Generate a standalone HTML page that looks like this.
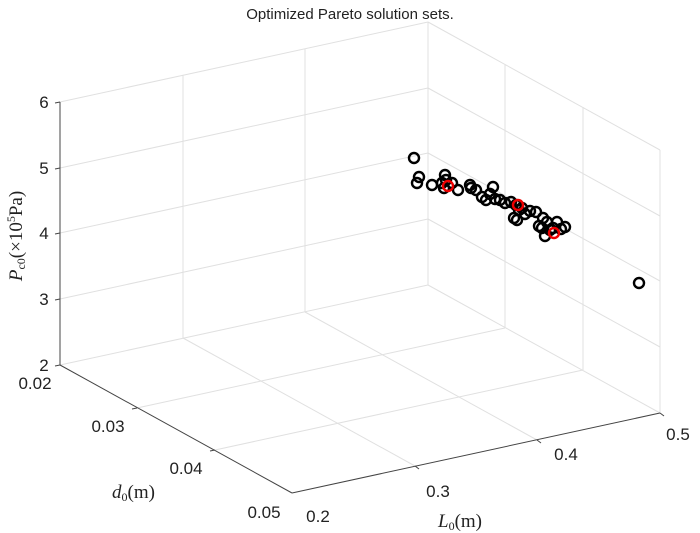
<!DOCTYPE html>
<html><head><meta charset="utf-8"><style>
body{margin:0;background:#fff}
svg{display:block;font-family:"Liberation Sans",sans-serif}
</style></head><body>
<svg width="700" height="533" viewBox="0 0 700 533">
<rect width="700" height="533" fill="#fff"/>
<text x="350" y="19" font-size="15" text-anchor="middle" fill="#222">Optimized Pareto solution sets.</text>
<g stroke="#e0e0e0" stroke-width="1" fill="none">
<line x1="60" y1="299" x2="428" y2="219"/>
<line x1="60" y1="233" x2="428" y2="153"/>
<line x1="60" y1="168" x2="428" y2="88"/>
<line x1="60" y1="102" x2="428" y2="22"/>
<line x1="183" y1="338" x2="183" y2="75"/>
<line x1="305" y1="312" x2="305" y2="49"/>
<line x1="428" y1="285" x2="428" y2="22"/>
<line x1="428" y1="219" x2="660" y2="347"/>
<line x1="428" y1="153" x2="660" y2="281"/>
<line x1="428" y1="88" x2="660" y2="216"/>
<line x1="428" y1="22" x2="660" y2="150"/>
<line x1="505" y1="328" x2="505" y2="65"/>
<line x1="583" y1="370" x2="583" y2="107"/>
<line x1="660" y1="413" x2="660" y2="150"/>
<line x1="137" y1="408" x2="505" y2="328"/>
<line x1="215" y1="450" x2="583" y2="370"/>
<line x1="183" y1="338" x2="415" y2="466"/>
<line x1="305" y1="312" x2="537" y2="440"/>
<line x1="60" y1="365" x2="428" y2="285"/>
<line x1="428" y1="285" x2="660" y2="413"/>
</g>
<g stroke="#444" stroke-width="1" fill="none">
<line x1="60" y1="365" x2="60" y2="102"/>
<line x1="60" y1="365" x2="292" y2="493"/>
<line x1="292" y1="493" x2="660" y2="413"/>
</g>
<g stroke="#444" stroke-width="1">
<line x1="60" y1="365" x2="55" y2="366"/><line x1="60" y1="299" x2="55" y2="300"/><line x1="60" y1="233" x2="55" y2="234"/><line x1="60" y1="168" x2="55" y2="169"/><line x1="60" y1="102" x2="55" y2="103"/>
<line x1="137" y1="408" x2="132" y2="409"/><line x1="215" y1="450" x2="210" y2="451"/>
<line x1="415" y1="466" x2="419" y2="469"/><line x1="537" y1="440" x2="541" y2="443"/><line x1="660" y1="413" x2="664" y2="416"/>
</g>
<g font-size="17" fill="#222">
<text x="44" y="371" text-anchor="middle">2</text>
<text x="44" y="305" text-anchor="middle">3</text>
<text x="44" y="239" text-anchor="middle">4</text>
<text x="44" y="174" text-anchor="middle">5</text>
<text x="44" y="108" text-anchor="middle">6</text>
<text x="35" y="389" text-anchor="middle">0.02</text>
<text x="108" y="432" text-anchor="middle">0.03</text>
<text x="186" y="474" text-anchor="middle">0.04</text>
<text x="264" y="518" text-anchor="middle">0.05</text>
<text x="318" y="522" text-anchor="middle">0.2</text>
<text x="438" y="497" text-anchor="middle">0.3</text>
<text x="566" y="460" text-anchor="middle">0.4</text>
<text x="678" y="440" text-anchor="middle">0.5</text>
</g>
<g font-family="Liberation Serif,serif" font-size="19" fill="#222">
<text x="112" y="498"><tspan font-style="italic">d</tspan><tspan font-size="12" dy="3">0</tspan><tspan dy="-3">(m)</tspan></text>
<text x="438" y="527"><tspan font-style="italic">L</tspan><tspan font-size="12" dy="3">0</tspan><tspan dy="-3">(m)</tspan></text>
<text transform="translate(22,236) rotate(-90)" text-anchor="middle"><tspan font-style="italic">P</tspan><tspan font-size="12" dy="3">c0</tspan><tspan dy="-3">(×10</tspan><tspan font-size="12" dy="-7">5</tspan><tspan dy="7">Pa)</tspan></text>
</g>
<g fill="none" stroke="#000" stroke-width="2.4">
<circle cx="414" cy="158" r="5"/><circle cx="419" cy="177" r="5"/><circle cx="417" cy="183" r="5"/><circle cx="432" cy="185" r="5"/><circle cx="442" cy="183" r="5"/><circle cx="445" cy="175" r="5"/><circle cx="444" cy="188" r="5"/><circle cx="452" cy="183" r="5"/><circle cx="458" cy="190" r="5"/><circle cx="470" cy="185" r="5"/><circle cx="471" cy="188" r="5"/><circle cx="476" cy="190" r="5"/><circle cx="493" cy="187" r="5"/><circle cx="482" cy="197" r="5"/><circle cx="486" cy="200" r="5"/><circle cx="495" cy="199" r="5"/><circle cx="500" cy="200" r="5"/><circle cx="505" cy="203" r="5"/><circle cx="511" cy="202" r="5"/><circle cx="516" cy="205" r="5"/><circle cx="519" cy="210" r="5"/><circle cx="522" cy="208" r="5"/><circle cx="525" cy="214" r="5"/><circle cx="514" cy="218" r="5"/><circle cx="530" cy="211" r="5"/><circle cx="536" cy="212" r="5"/><circle cx="543" cy="218" r="5"/><circle cx="547" cy="222" r="5"/><circle cx="539" cy="226" r="5"/><circle cx="517" cy="220" r="5"/><circle cx="553" cy="228" r="5"/><circle cx="557" cy="222" r="5"/><circle cx="561" cy="229" r="5"/><circle cx="550" cy="230" r="5"/><circle cx="565" cy="227" r="5"/><circle cx="545" cy="236" r="5"/><circle cx="542" cy="228" r="5"/><circle cx="639" cy="283" r="5"/><circle cx="446" cy="180" r="5"/><circle cx="490" cy="194" r="5"/>
</g>
<g fill="none" stroke="#e00" stroke-width="2.4">
<circle cx="448" cy="186" r="5"/><circle cx="518" cy="205" r="5"/><circle cx="554" cy="233" r="5"/>
</g>
</svg>
</body></html>
